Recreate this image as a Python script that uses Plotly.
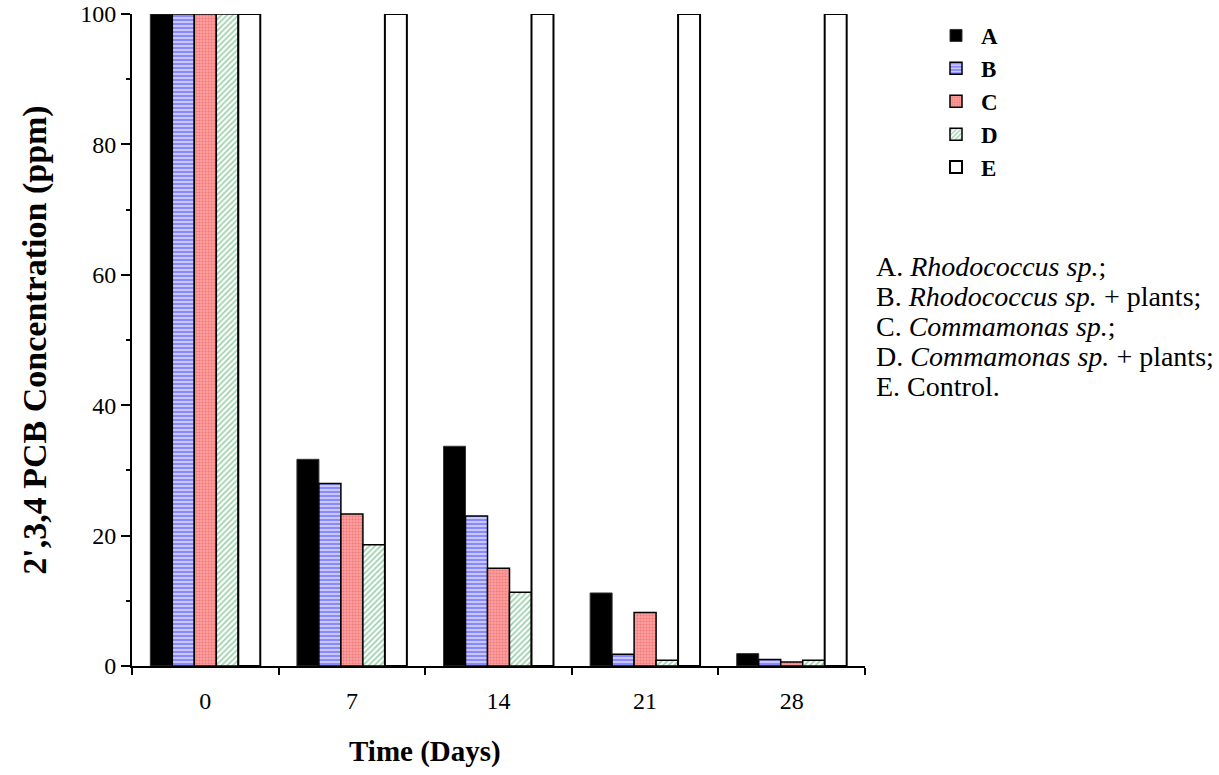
import plotly.graph_objects as go

days = ["0", "7", "14", "21", "28"]
series_names = ["A", "B", "C", "D", "E"]
vals_A = [100, 31.7, 33.7, 11.2, 1.9]
vals_B = [100, 28.0, 23.0, 1.8, 1.0]
vals_C = [100, 23.3, 15.0, 8.2, 0.6]
vals_D = [100, 18.6, 11.3, 0.9, 0.9]
vals_E = [100, 100, 100, 100, 100]

notes = [
    "A. <i>Rhodococcus sp.</i>;",
    "B. <i>Rhodococcus sp.</i> + plants;",
    "C. <i>Commamonas sp.</i>;",
    "D. <i>Commamonas sp.</i> + plants;",
    "E. Control.",
]

FONT = "Liberation Serif"

styles = {
    "A": dict(color="black", pattern=dict(shape=""), line=dict(color="#333333", width=1)),
    "B": dict(color="#b8b8ff", pattern=dict(shape="-", fgcolor="#3c3cff", bgcolor="#c8c8ff", size=4, solidity=0.45),
              line=dict(color="black", width=1.5)),
    "C": dict(color="#f28080", pattern=dict(shape=".", fgcolor="#e05050", bgcolor="#ffa0a0", size=3, solidity=0.4),
              line=dict(color="black", width=1.5)),
    "D": dict(color="white", pattern=dict(shape="/", fgcolor="#30a050", bgcolor="white", size=4, solidity=0.4),
              line=dict(color="black", width=1.5)),
    "E": dict(color="white", pattern=dict(shape=""), line=dict(color="black", width=2)),
}

L, T, R, B = 132, 14, 1219 - 865, 775 - 666
PW, PH = 865 - 132, 666 - 14

fig = go.Figure()
for name, vals in zip(series_names, [vals_A, vals_B, vals_C, vals_D, vals_E]):
    fig.add_trace(go.Bar(x=days, y=vals, name="<b>" + name + "</b>", marker=styles[name]))

for i, t in enumerate(notes):
    fig.add_annotation(text=t, xref="paper", yref="paper", x=(874 - 132) / PW, xanchor="left",
                       y=(666 - (266 + 30.2 * i)) / PH, yanchor="middle", showarrow=False,
                       font=dict(family=FONT, size=28, color="black"), align="left")

# x-axis title sits under the "14" category in the reference
fig.add_annotation(text="<b>Time (Days)</b>", xref="paper", x=(425 - 132) / PW, yref="paper",
                   y=-(752 - 666) / PH, yanchor="middle", xanchor="center", showarrow=False,
                   font=dict(family=FONT, size=29, color="black"))

fig.update_layout(
    width=1219, height=775,
    margin=dict(l=L, r=R, t=T, b=B, autoexpand=False),
    paper_bgcolor="white", plot_bgcolor="white",
    barmode="group", bargap=0.25, bargroupgap=0,
    font=dict(family=FONT, size=24, color="black"),
    legend=dict(x=(931 - 132) / PW, y=(666 - 14) / PH, xanchor="left", yanchor="top",
                font=dict(family=FONT, size=23, color="black"), tracegroupgap=0, itemwidth=40),
    xaxis=dict(type="category", showline=True, linecolor="black", linewidth=2, ticks="outside",
               tickson="boundaries", ticklen=7, tickwidth=2, tickcolor="black", showgrid=False,
               range=[-0.5, 4.5], tickfont=dict(size=24), automargin=False, ticklabelstandoff=12),
    yaxis=dict(range=[0, 100], dtick=20, showline=True, linecolor="black", linewidth=2, ticks="outside",
               ticklen=9, tickwidth=2, tickcolor="black", showgrid=False, zeroline=False,
               tickfont=dict(size=24), automargin=False, ticklabeloverflow="allow",
               minor=dict(dtick=10, ticks="outside", ticklen=4, tickwidth=2, tickcolor="black", showgrid=False),
               title=dict(text="<b>2',3,4 PCB Concentration (ppm)</b>", font=dict(size=34), standoff=23)),
)

fig.write_html("out.html", config={"displayModeBar": False},
               post_script="document.body.style.margin='0';")
